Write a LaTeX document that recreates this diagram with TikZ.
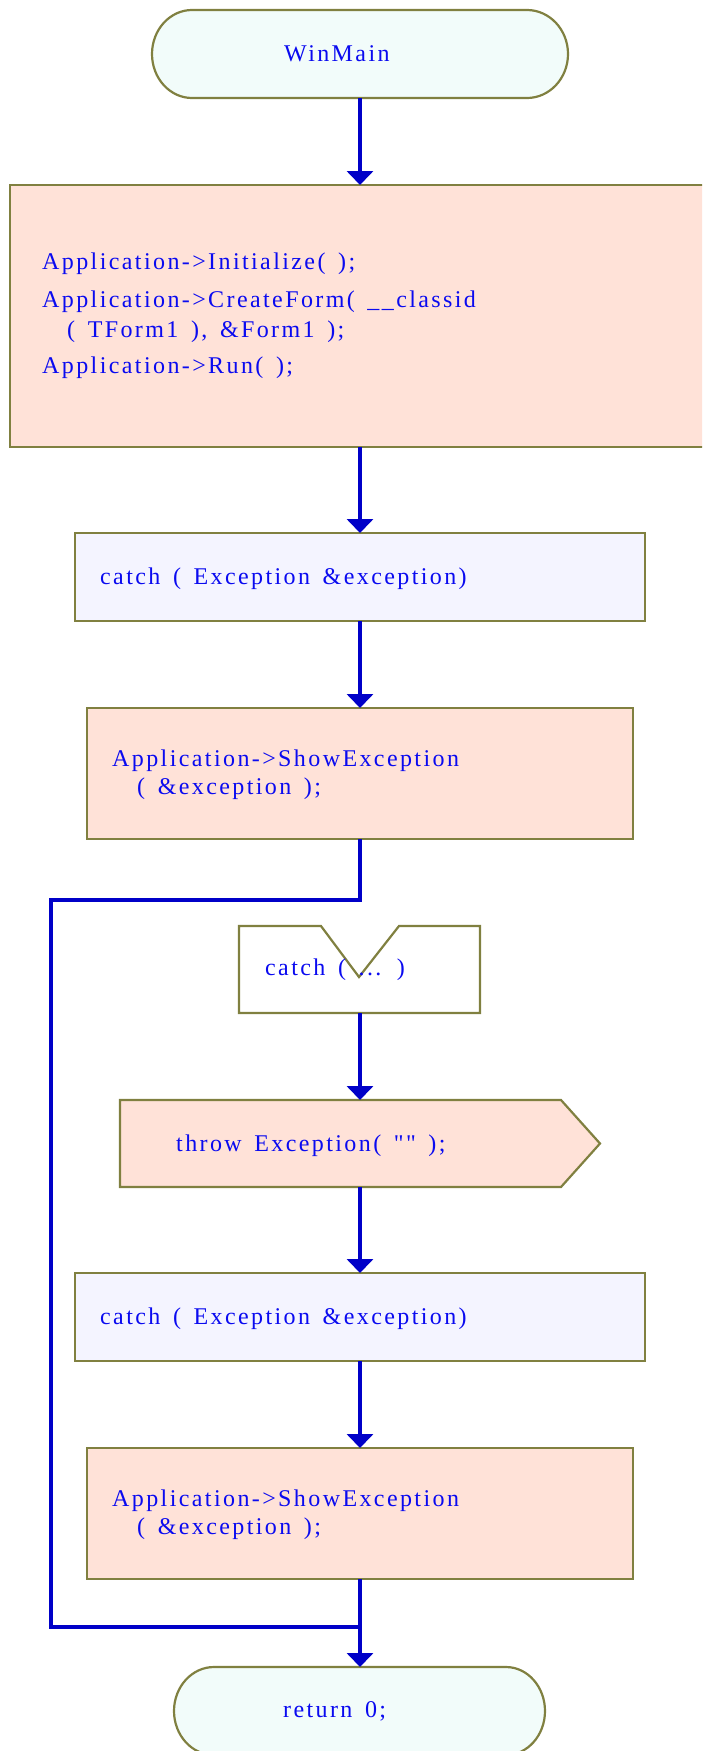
\documentclass[tikz,border=0pt]{standalone}
\usepackage{fontspec}
\setmainfont{Liberation Serif}[LetterSpace=10, WordSpace=1.5, Ligatures=TeXOff]
\usetikzlibrary{arrows.meta}

\definecolor{olivebd}{RGB}{128,128,64}
\definecolor{connblue}{RGB}{0,0,200}
\definecolor{txtblue}{RGB}{10,10,240}
\definecolor{salmonfill}{RGB}{255,226,216}
\definecolor{lavfill}{RGB}{244,244,255}
\definecolor{mintfill}{RGB}{242,252,250}

\tikzset{
  outline/.style={draw=olivebd, line width=2.2pt, line join=miter},
  holder/.style={rectangle, inner sep=0pt, outer sep=0pt},
  stmtbox/.style={holder, outline, fill=salmonfill},
  catchbox/.style={holder, outline, fill=lavfill},
  conn/.style={draw=connblue, line width=4pt},
  flow/.style={conn, -{Triangle[length=14pt,width=26pt]}},
  code/.style={anchor=base west, inner sep=0pt, text=txtblue,
    font=\fontsize{24pt}{28pt}\selectfont},
}

\begin{document}
\begin{tikzpicture}[x=1pt, y=-1pt]
\useasboundingbox (0,0) rectangle (702,1751);
\clip (0,0) rectangle (702,1751);

% start terminal
\node[holder, minimum width=416pt, minimum height=88pt] (win) at (360,54) {};
\draw[outline, fill=mintfill] (192,10) -- (527,10)
  .. controls (549.6,10) and (568,29.7) .. (568,54)
  .. controls (568,78.3) and (549.6,98) .. (527,98)
  -- (192,98)
  .. controls (169.9,98) and (152,78.3) .. (152,54)
  .. controls (152,29.7) and (169.9,10) .. (192,10) -- cycle;
\node[code] (twin) at (284,61) {WinMain};

% try block
\node[stmtbox, minimum width=700pt, minimum height=262pt] (init) at (360,316) {};
\node[code] (t1) at (42,269) {Application->Initialize( );};
\node[code] (t2) at (42,307) {Application->CreateForm( \_\_classid};
\node[code] (t3) at (67,337) {( TForm1 ), \&Form1 );};
\node[code] (t4) at (42,373) {Application->Run( );};

% first handler
\node[catchbox, minimum width=570pt, minimum height=88pt] (catchA) at (360,577) {};
\node[code] (tcA) at (100,584) {catch ( Exception \&exception)};

\node[stmtbox, minimum width=546pt, minimum height=131pt] (showA) at (360,773.5) {};
\node[code] (tsA1) at (112,766) {Application->ShowException};
\node[code] (tsA2) at (137,794) {( \&exception );};

% catch-all handler
\node[holder, minimum width=241pt, minimum height=87pt] (catchAll) at (360,969.5) {};
\draw[outline, fill=white] (239,926) -- (321,926) -- (359,977) -- (399,926)
  -- (480,926) -- (480,1013) -- (239,1013) -- cycle;
\node[code] (tall) at (265,975) {catch ( ... )};

\node[holder, minimum width=480pt, minimum height=87pt] (throw) at (360,1143.5) {};
\draw[outline, fill=salmonfill] (120,1100) -- (561,1100) -- (600,1143.5)
  -- (561,1187) -- (120,1187) -- cycle;
\node[code] (tthrow) at (176,1151) {throw Exception( "" );};

% second handler
\node[catchbox, minimum width=570pt, minimum height=88pt] (catchB) at (360,1317) {};
\node[code] (tcB) at (100,1324) {catch ( Exception \&exception)};

\node[stmtbox, minimum width=546pt, minimum height=131pt] (showB) at (360,1513.5) {};
\node[code] (tsB1) at (112,1506) {Application->ShowException};
\node[code] (tsB2) at (137,1534) {( \&exception );};

% end terminal
\node[holder, minimum width=371pt, minimum height=88pt] (ret) at (360,1711) {};
\draw[outline, fill=mintfill] (214,1667) -- (506,1667)
  .. controls (527.5,1667) and (545,1686.7) .. (545,1711)
  .. controls (545,1735.3) and (527.5,1755) .. (506,1755)
  -- (214,1755)
  .. controls (191.9,1755) and (174,1735.3) .. (174,1711)
  .. controls (174,1686.7) and (191.9,1667) .. (214,1667) -- cycle;
\node[code] (tret) at (283,1717) {return 0;};

% connectors
\coordinate (bendTop) at (51,900);
\coordinate (join) at (360,1627);
\draw[flow] (win.south) -- (win.south |- init.north);
\draw[flow] (init.south) -- (catchA.north);
\draw[flow] (catchA.south) -- (showA.north);
\draw[conn] (showA.south) |- (bendTop) |- (join);
\draw[flow] (catchAll.south) -- (throw.north);
\draw[flow] (throw.south) -- (catchB.north);
\draw[flow] (catchB.south) -- (showB.north);
\draw[flow] (showB.south) -- (ret.north);
\end{tikzpicture}
\end{document}
